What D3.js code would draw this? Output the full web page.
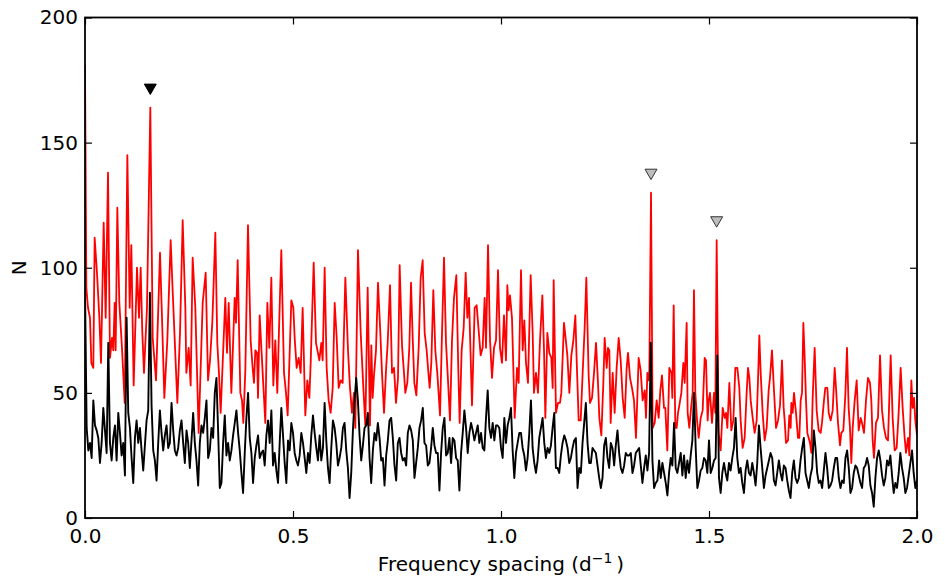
<!DOCTYPE html>
<html>
<head>
<meta charset="utf-8">
<script src="https://cdn.jsdelivr.net/npm/d3@7"></script>
<style>
  html, body { margin: 0; padding: 0; background: #fff; }
  svg { display: block; font-family: "DejaVu Sans", sans-serif; }
</style>
</head>
<body>
<svg id="chart" width="945" height="583"></svg>
<script>
// ---------------- data ----------------
const xTicks = [0.0, 0.5, 1.0, 1.5, 2.0];
const xTickLabels = ["0.0", "0.5", "1.0", "1.5", "2.0"];
const yTicks = [0, 50, 100, 150, 200];
const yTickLabels = ["0", "50", "100", "150", "200"];

// red series: frequency spacing and N
const redFreq = [
0,0.0032,0.0072,0.012,0.0152,0.020,0.0232,0.0288,0.0345,0.0385,0.0449,0.0497,0.0553,0.0601,0.0649,0.0681,0.0713,0.0737,0.0777,0.0825,0.0889,0.0954,0.1018,0.1074,0.1114,0.117,0.125,0.1298,0.1338,0.1378,0.1418,0.149,0.157,0.1627,0.1707,0.1803,0.1851,0.1907,0.1979,0.2059,0.2107,0.222,0.2284,0.2348,0.2412,0.2436,0.2492,0.254,0.2588,0.2652,0.2732,0.2829,0.2901,0.2957,0.3005,0.306,0.3133,0.318,0.322,0.3261,0.3373,
0.3413,0.3454,0.3518,0.3598,0.363,0.367,0.3734,0.3774,0.3806,0.3854,0.3918,0.3982,0.403,0.4062,0.4095,0.4135,0.4159,0.4199,0.4239,0.4287,0.4335,0.4383,0.4431,0.4479,0.4527,0.4575,0.4623,0.4663,0.4719,0.4784,0.4832,0.4872,0.496,0.5008,0.504,0.5088,0.5136,0.5184,0.5232,0.5296,0.5345,0.5393,0.5425,0.5497,0.5553,0.5633,0.5681,0.5713,0.5761,0.5809,0.5857,0.5905,0.5954,0.6002,0.605,0.6098,0.6146,0.6194,0.6258,0.6322,0.637,0.6418,0.6466,0.6498,0.6562,0.6627,0.6691,0.6739,
0.6795,0.6851,0.6883,0.6915,0.6947,0.6995,0.7043,0.7099,0.7139,0.7188,0.7236,0.7276,0.7332,0.738,0.7428,0.7476,0.7524,0.7564,0.762,0.7668,0.77,0.7748,0.7796,0.7837,0.7877,0.7917,0.7965,0.8021,0.8069,0.8117,0.8165,0.8213,0.8245,0.8285,0.8325,0.8373,0.8421,0.8469,0.8534,0.8582,0.863,0.8678,0.8726,0.8774,0.8822,0.887,0.8926,0.8974,0.9006,0.9054,0.9103,0.9151,0.9191,0.9231,0.9303,0.9367,0.9415,0.9463,0.9511,0.9559,0.9607,0.9639,0.9688,0.9736,0.9784,0.9832,0.988,0.9928,0.9976,1.0024,1.0072,1.012,
1.0152,1.0184,1.0216,1.0264,1.0329,1.0385,1.0425,1.0481,1.0521,1.0561,1.0601,1.0649,1.0713,1.0761,1.0793,1.0841,1.0889,1.0938,1.0994,1.1034,1.1066,1.1114,1.1162,1.121,1.1242,1.1266,1.1322,1.137,1.1418,1.145,1.1514,1.1546,1.1595,1.1643,1.1691,1.1739,1.1787,1.1819,1.1867,1.1915,1.1963,1.2011,1.2051,1.2107,1.2139,1.2188,1.2236,1.2284,1.2332,1.2364,1.2412,1.246,1.2492,1.254,1.2572,1.2604,1.2636,1.2684,1.2732,1.278,1.2829,1.2877,1.2925,1.2973,1.3021,1.3053,1.3101,1.3149,1.3197,1.3245,1.3309,1.3357,1.3405,1.3454,1.3486,
1.3518,1.355,1.3566,1.3606,1.3646,1.3694,1.3742,1.379,1.383,1.387,1.3918,1.395,1.3998,1.4046,1.4095,1.4119,1.4151,1.4191,1.4223,1.4255,1.4287,1.4335,1.4383,1.4415,1.4463,1.4487,1.4527,1.4575,1.4607,1.4639,1.4671,1.4712,1.4752,1.48,1.4848,1.4896,1.4928,1.4968,1.4992,1.5024,1.5072,1.512,1.5152,1.5184,1.5232,1.528,1.5329,1.5377,1.5409,1.5441,1.5489,1.5537,1.5585,1.5633,1.5681,1.5729,1.5761,1.5809,1.5857,1.5905,1.5938,1.597,1.6002,1.605,1.6098,1.6146,1.6178,1.621,1.6242,1.629,1.6338,1.6386,1.6434,1.6466,1.6514,1.6562,1.6611,1.6659,1.6707,1.6755,1.6795,1.6819,1.6851,
1.6899,1.6931,1.6963,1.6979,1.7011,1.7043,1.7091,1.7139,1.7171,1.7204,1.7236,1.7268,1.73,1.7332,1.7364,1.7396,1.7428,1.746,1.7492,1.754,1.7588,1.7636,1.7684,1.7716,1.7764,1.7796,1.7845,1.7877,1.7925,1.7973,1.8021,1.8053,1.8101,1.8149,1.8181,1.8229,1.8277,1.8317,1.8357,1.8389,1.8421,1.8454,1.8502,1.855,1.8598,1.8646,1.8678,1.8726,1.8774,1.8822,1.887,1.8902,1.8934,1.8966,1.9014,1.9062,1.9111,1.9159,1.9207,1.9255,1.9303,1.9335,1.9367,1.9415,1.9463,1.9511,1.9559,1.9607,1.9655,1.9703,1.9736,1.9784,1.9816,1.9864,1.9896,1.9928,1.996,2.0
];
const redN = [
181,92,84,80,62,60,112,98,80,62,118,80,138,64,72,67,86,67,124,86,68,46,145,84,109,53,100,80,100,74,58,84,164,72,55,106,80,48,71,111,91,46,74,119,84,58,68,53,104,84,34,86,98,55,63,78,114,70,58,42,88,
66,86,50,88,78,103,50,47,38,59,117,71,60,54,67,66,48,81,68,53,38,86,68,96,53,71,50,75,107,58,50,41,87,84,72,60,64,58,84,41,55,48,62,102,70,63,70,63,100,60,47,42,52,86,72,52,55,54,96,67,52,42,50,36,107,74,52,37,
92,37,69,48,57,67,94,74,58,42,59,70,93,58,60,46,56,101,69,58,50,54,68,94,72,54,49,68,96,103,74,67,60,52,62,91,67,58,41,74,104,70,55,39,71,88,97,59,38,67,76,98,80,88,45,84,85,75,65,68,88,68,109,71,56,68,71,99,68,62,81,63,
93,83,89,80,40,60,54,99,67,79,62,54,97,74,50,58,50,71,89,67,40,74,66,64,52,95,42,46,46,50,78,73,65,50,65,71,81,63,39,39,58,76,96,57,46,48,58,70,54,40,33,54,72,60,68,67,38,58,42,60,72,63,48,40,60,66,56,52,47,32,64,59,47,51,40,
58,55,59,130,36,38,47,40,51,57,44,44,27,60,58,48,85,36,36,42,45,50,62,54,78,42,36,45,50,91,50,39,32,40,43,64,63,39,47,50,38,50,42,111,34,27,44,40,42,36,54,35,39,60,60,52,39,28,32,50,60,56,47,40,34,39,55,73,58,42,31,36,51,56,67,51,36,39,45,63,44,39,30,
31,41,36,46,42,50,42,32,32,47,50,78,64,47,34,32,30,26,48,68,43,35,34,38,47,52,52,42,39,43,60,52,38,29,34,35,49,68,44,36,22,36,47,55,35,40,38,34,47,56,54,47,31,24,38,40,65,43,36,32,31,48,65,40,27,28,42,60,44,32,26,32,25,55,44,48,39,33
];

// black series: N sampled every 0.004 in frequency spacing, starting at 0
const blackStart = 0;
const blackStep = 0.004;
const blackN = [
92,36,27,30,24,47,37,35,32,22,
30,44,35,26,70,30,23,32,37,23,
42,34,25,30,17,80,42,36,24,14,
32,39,30,36,27,19,29,39,43,90,
45,27,23,15,30,43,34,27,33,37,
28,30,46,35,27,25,28,35,39,30,
22,35,30,20,31,42,30,23,13,30,
37,34,40,47,24,27,36,32,50,56,
35,12,14,30,41,25,30,23,27,33,
38,43,34,27,18,10,26,40,50,32,
26,14,24,29,33,24,26,27,21,33,
39,30,43,21,26,19,14,30,44,33,
22,14,31,27,38,34,26,23,21,25,
34,30,24,18,26,22,33,41,34,28,
23,33,23,28,46,31,20,14,28,39,
36,30,21,24,28,36,38,27,20,8,
18,35,47,56,47,33,23,29,36,37,
42,24,14,27,34,31,38,32,23,24,
13,25,31,39,40,32,21,15,30,32,
26,23,24,21,34,37,35,31,16,22,
28,36,39,44,30,29,21,22,28,36,
29,26,26,11,26,36,40,25,26,32,
22,32,31,24,23,11,26,34,43,36,
26,34,38,35,31,34,37,30,34,28,
27,40,51,36,32,38,31,37,37,36,
28,24,40,30,37,40,44,27,16,26,
30,34,34,28,25,19,24,34,47,28,
22,18,23,32,36,40,30,24,28,26,
29,36,42,20,20,18,25,30,33,31,
28,22,24,28,31,32,12,20,18,30,
38,46,30,22,22,28,27,26,21,16,
12,16,29,32,24,20,30,28,21,29,
35,26,20,18,21,26,25,25,26,18,
21,26,27,28,21,14,20,25,19,26,
70,23,12,14,15,23,16,22,18,14,
9,18,24,21,38,20,18,22,26,17,
25,16,23,18,25,31,50,28,12,15,
19,20,24,23,18,31,18,20,23,24,
65,16,10,18,22,18,15,22,19,24,
28,40,24,18,20,14,10,19,23,18,
17,22,18,13,22,37,28,20,12,17,
20,23,26,24,15,13,18,23,18,15,
21,20,15,11,8,18,23,16,14,16,
23,28,32,18,15,12,17,20,35,28,
18,14,15,12,19,26,20,12,13,15,
20,24,24,16,12,15,14,24,27,20,
10,12,18,21,20,17,14,12,20,21,
24,21,13,10,4.5,16,24,27,23,17,
13,16,23,21,25,17,10,14,12,18,
26,20,16,10,12,17,22,27,18,12,
15
];

// marked peaks (triangles)
const markerFreq = [0.157, 1.3606, 1.5184];
const markerN = [172, 138, 119];
const markerKind = ["primary", "secondary", "secondary"];

// ---------------- drawing ----------------
const svg = d3.select("#chart");
const pLeft = 85, pRight = 917, pTop = 17.5, pBottom = 518;

const x = d3.scaleLinear().domain([0, 2]).range([pLeft, pRight]);
const y = d3.scaleLinear().domain([0, 200]).range([pBottom, pTop]);

const redData = redFreq.map((f, i) => [f, redN[i]]);
const blackData = blackN.map((v, i) => [blackStart + i * blackStep, v]);

svg.append("defs").append("clipPath").attr("id", "plotclip")
  .append("rect").attr("x", pLeft).attr("y", pTop)
  .attr("width", pRight - pLeft).attr("height", pBottom - pTop);

const line = d3.line().x(d => x(d[0])).y(d => y(d[1]));

const g = svg.append("g").attr("clip-path", "url(#plotclip)");
g.append("path").datum(redData)
  .attr("d", line).attr("fill", "none")
  .attr("stroke", "#ff0000").attr("stroke-width", 1.8)
  .attr("stroke-linejoin", "round");
g.append("path").datum(blackData)
  .attr("d", line).attr("fill", "none")
  .attr("stroke", "#000000").attr("stroke-width", 1.9)
  .attr("stroke-linejoin", "round");

// triangle markers (pointing down)
const tri = d3.symbol().type(d3.symbolTriangle).size(62);
svg.append("g").selectAll("path").data(markerFreq).join("path")
  .attr("d", tri)
  .attr("transform", (d, i) => `translate(${x(d)},${y(markerN[i])}) rotate(180)`)
  .attr("fill", (d, i) => markerKind[i] === "primary" ? "#000" : "#bdbdbd")
  .attr("stroke", (d, i) => markerKind[i] === "primary" ? "#000" : "#333")
  .attr("stroke-width", 1);

// axes with inward ticks on all four sides
const tickLen = 7;
const xAxisB = d3.axisBottom(x).tickValues(xTicks).tickSizeInner(-tickLen).tickSizeOuter(0)
  .tickPadding(11).tickFormat((d, i) => xTickLabels[i]);
const xAxisT = d3.axisTop(x).tickValues(xTicks).tickSizeInner(-tickLen).tickSizeOuter(0)
  .tickFormat("");
const yAxisL = d3.axisLeft(y).tickValues(yTicks).tickSizeInner(-tickLen).tickSizeOuter(0)
  .tickPadding(7).tickFormat((d, i) => yTickLabels[i]);
const yAxisR = d3.axisRight(y).tickValues(yTicks).tickSizeInner(-tickLen).tickSizeOuter(0)
  .tickFormat("");

function styleAxis(sel) {
  sel.select(".domain").remove();
  sel.selectAll(".tick line").attr("stroke", "#000").attr("stroke-width", 1.2);
  sel.selectAll(".tick text").attr("fill", "#000")
    .style("font-family", "'DejaVu Sans', sans-serif").style("font-size", "20px");
}
svg.append("g").attr("transform", `translate(0,${pBottom})`).call(xAxisB).call(styleAxis);
svg.append("g").attr("transform", `translate(0,${pTop})`).call(xAxisT).call(styleAxis);
svg.append("g").attr("transform", `translate(${pLeft},0)`).call(yAxisL).call(styleAxis);
svg.append("g").attr("transform", `translate(${pRight},0)`).call(yAxisR).call(styleAxis);

// frame
svg.append("rect").attr("x", pLeft).attr("y", pTop)
  .attr("width", pRight - pLeft).attr("height", pBottom - pTop)
  .attr("fill", "none").attr("stroke", "#000").attr("stroke-width", 1.8);

// axis labels
const xl = svg.append("text")
  .attr("x", (pLeft + pRight) / 2).attr("y", 571)
  .attr("text-anchor", "middle")
  .style("font-family", "'DejaVu Sans', sans-serif").style("font-size", "20px")
  .attr("fill", "#000");
xl.append("tspan").text("Frequency spacing (d");
xl.append("tspan").attr("dy", -8).style("font-size", "14px").text("\u22121");
xl.append("tspan").attr("dy", 8).text("\u2009)");

svg.append("text")
  .attr("transform", `translate(26,${(pTop + pBottom) / 2}) rotate(-90)`)
  .attr("text-anchor", "middle")
  .style("font-family", "'DejaVu Sans', sans-serif").style("font-size", "20px")
  .attr("fill", "#000").text("N");
</script>
</body>
</html>
